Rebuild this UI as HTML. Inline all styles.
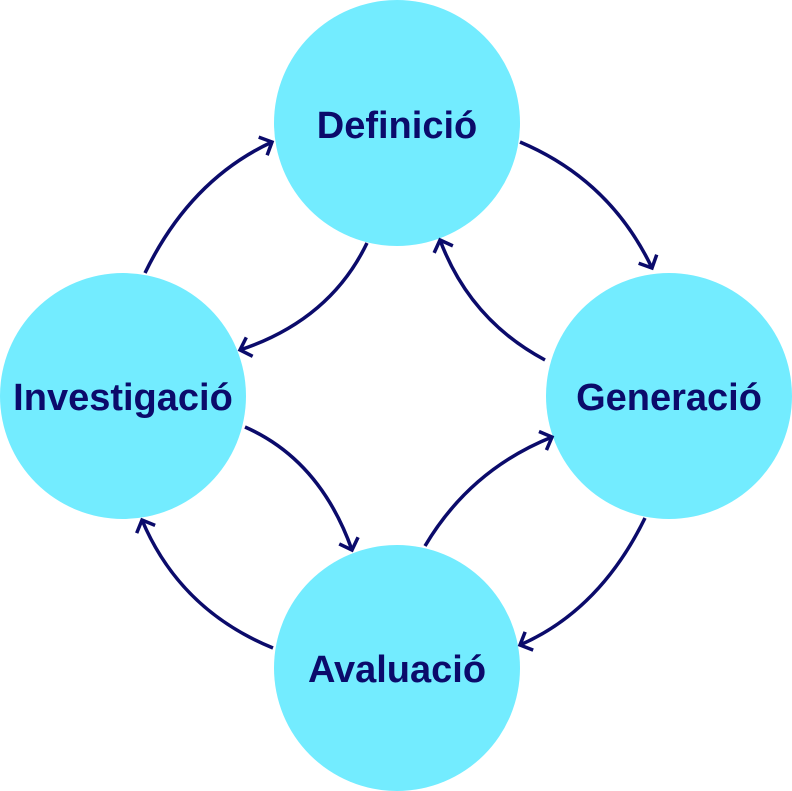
<!DOCTYPE html>
<html><head><meta charset="utf-8"><style>
html,body{margin:0;padding:0;background:#fff;}
svg{display:block;}
text{font-family:"Liberation Sans Narrow","Liberation Sans",sans-serif;font-weight:bold;fill:#0b0b6b;font-size:38px;}
</style></head><body>
<svg width="792" height="791" viewBox="0 0 792 791" xmlns="http://www.w3.org/2000/svg">
<defs>
<marker id="a" markerUnits="userSpaceOnUse" markerWidth="24" markerHeight="24" refX="12" refY="12" orient="auto">
<path d="M2,2 L12,12 L2,22" fill="none" stroke="#0b0b6b" stroke-width="3.5"/>
</marker>
</defs>
<circle cx="397" cy="123" r="123" fill="#73ecff"/>
<circle cx="123" cy="396" r="123" fill="#73ecff"/>
<circle cx="669" cy="396" r="123" fill="#73ecff"/>
<circle cx="397" cy="668" r="123" fill="#73ecff"/>
<g fill="none" stroke="#0b0b6b" stroke-width="3.5" marker-end="url(#a)">
<path d="M145,273 Q190,180 272,142"/>
<path d="M520,142 Q610,180 652,268"/>
<path d="M367,243 Q330,320 240,350"/>
<path d="M545,360 Q470,320 440,240"/>
<path d="M245,427 Q320,460 352,550"/>
<path d="M425,546 Q470,470 552,437"/>
<path d="M645,518 Q600,610 520,645"/>
<path d="M273,648 Q180,610 142,520"/>
</g>
<text x="397" y="138" text-anchor="middle">Definició</text>
<text x="123" y="410" text-anchor="middle">Investigació</text>
<text x="669" y="410" text-anchor="middle">Generació</text>
<text x="397" y="682" text-anchor="middle">Avaluació</text>
</svg>
</body></html>
